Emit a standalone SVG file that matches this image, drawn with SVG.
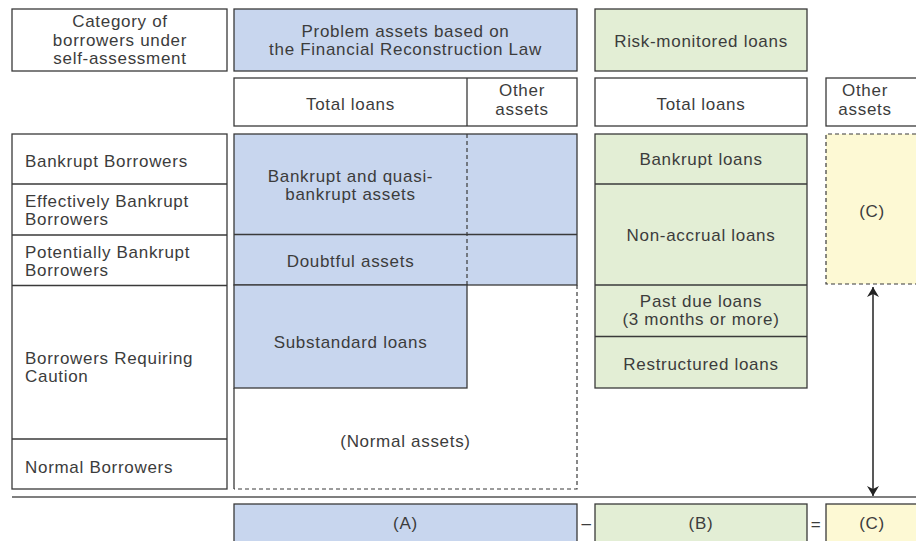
<svg xmlns="http://www.w3.org/2000/svg" width="916" height="541" viewBox="0 0 916 541">
<defs>
<style>
text{font-family:"Liberation Sans",Arial,sans-serif;font-size:17px;fill:#3c3c3c;letter-spacing:0.7px}
.c{text-anchor:middle}
.box{stroke:#3a3a3a;stroke-width:1.3}
.w{fill:#fff}
.b{fill:#c8d6ee}
.g{fill:#e3eed5}
.y{fill:#fdf9d4}
.ln{stroke:#3a3a3a;stroke-width:1.3;fill:none}
.dash{stroke:#3a3a3a;stroke-width:1.2;fill:none;stroke-dasharray:4 3}
</style>
<marker id="ah" viewBox="0 0 10 12" refX="10" refY="6" markerWidth="10" markerHeight="12" orient="auto-start-reverse" markerUnits="userSpaceOnUse">
<path d="M0,0 L10,6 L0,12 L3,6 Z" fill="#222"/>
</marker>
</defs>
<rect width="916" height="541" fill="#fff"/>

<g id="hdr-category">
<rect class="box w" x="12" y="9" width="215" height="62"/>
<text class="c" x="120" y="27">Category of</text>
<text class="c" x="120" y="45.5">borrowers under</text>
<text class="c" x="120" y="64">self-assessment</text>
</g>

<g id="hdr-frl">
<rect class="box b" x="234" y="9" width="343" height="62"/>
<text class="c" x="405.5" y="36.5">Problem assets based on</text>
<text class="c" x="405.5" y="55">the Financial Reconstruction Law</text>
</g>

<g id="hdr-rml">
<rect class="box g" x="595" y="9" width="212" height="62"/>
<text class="c" x="701" y="46.5">Risk-monitored loans</text>
</g>

<g id="sub-frl">
<rect class="box w" x="234" y="78" width="343" height="48"/>
<line class="ln" x1="467" y1="78" x2="467" y2="126"/>
<text class="c" x="350.5" y="110">Total loans</text>
<text class="c" x="522" y="96">Other</text>
<text class="c" x="522" y="115">assets</text>
</g>

<g id="sub-rml">
<rect class="box w" x="595" y="78" width="212" height="48"/>
<text class="c" x="701" y="110">Total loans</text>
</g>

<g id="sub-other">
<rect class="box w" x="826" y="78" width="100" height="48"/>
<text class="c" x="865" y="96">Other</text>
<text class="c" x="865" y="115">assets</text>
</g>

<g id="categories">
<rect class="box w" x="12" y="134" width="215" height="355"/>
<line class="ln" x1="12" y1="184" x2="227" y2="184" stroke-width="1.6"/>
<line class="ln" x1="12" y1="235" x2="227" y2="235" stroke-width="1.6"/>
<line class="ln" x1="12" y1="285.5" x2="227" y2="285.5" stroke-width="1.6"/>
<line class="ln" x1="12" y1="439" x2="227" y2="439" stroke-width="1.6"/>
<text x="25" y="167">Bankrupt Borrowers</text>
<text x="25" y="207">Effectively Bankrupt</text>
<text x="25" y="225">Borrowers</text>
<text x="25" y="258">Potentially Bankrupt</text>
<text x="25" y="276">Borrowers</text>
<text x="25" y="363.5">Borrowers Requiring</text>
<text x="25" y="382">Caution</text>
<text x="25" y="473">Normal Borrowers</text>
</g>

<g id="frl-body">
<path class="dash" d="M577,285 V489 H234"/>
<line class="ln" x1="234" y1="388" x2="234" y2="489" stroke="#777" stroke-width="1"/>
<rect class="box b" x="234" y="134" width="343" height="151"/>
<line class="ln" x1="234" y1="234.5" x2="577" y2="234.5"/>
<line class="dash" x1="467" y1="134" x2="467" y2="285" stroke="#222"/>
<rect class="box b" x="234" y="285" width="233" height="103"/>
<text class="c" x="350.5" y="181.5">Bankrupt and quasi-</text>
<text class="c" x="350.5" y="199.5">bankrupt assets</text>
<text class="c" x="350.5" y="266.5">Doubtful assets</text>
<text class="c" x="350.5" y="348">Substandard loans</text>
<text class="c" x="405.5" y="446.5">(Normal assets)</text>
</g>

<g id="rml-body">
<rect class="box g" x="595" y="134" width="212" height="254"/>
<line class="ln" x1="595" y1="184" x2="807" y2="184"/>
<line class="ln" x1="595" y1="285" x2="807" y2="285"/>
<line class="ln" x1="595" y1="336.5" x2="807" y2="336.5"/>
<text class="c" x="701" y="165">Bankrupt loans</text>
<text class="c" x="701" y="240.5">Non-accrual loans</text>
<text class="c" x="701" y="306.5">Past due loans</text>
<text class="c" x="701" y="325">(3 months or more)</text>
<text class="c" x="701" y="370">Restructured loans</text>
</g>

<g id="other-c">
<rect class="y" x="826" y="134" width="100" height="150"/>
<path class="dash" d="M926,284 H826 V134 H926"/>
<text class="c" x="872" y="217">(C)</text>
</g>

<g id="connectors">
<line x1="12" y1="497" x2="916" y2="497" stroke="#555" stroke-width="1.3"/>
<line x1="873" y1="287" x2="873" y2="496" stroke="#222" stroke-width="1.5" marker-start="url(#ah)" marker-end="url(#ah)"/>
</g>

<g id="eq-a">
<rect class="box b" x="234" y="504" width="343" height="50"/>
<text class="c" x="405.5" y="529" font-size="15">(A)</text>
</g>
<text class="c" x="586.5" y="529">–</text>
<g id="eq-b">
<rect class="box g" x="595" y="504" width="212" height="50"/>
<text class="c" x="701" y="529" font-size="15">(B)</text>
</g>
<text class="c" x="816" y="530">=</text>
<g id="eq-c">
<rect class="box y" x="826" y="504" width="100" height="50"/>
<text class="c" x="872" y="529">(C)</text>
</g>
</svg>
